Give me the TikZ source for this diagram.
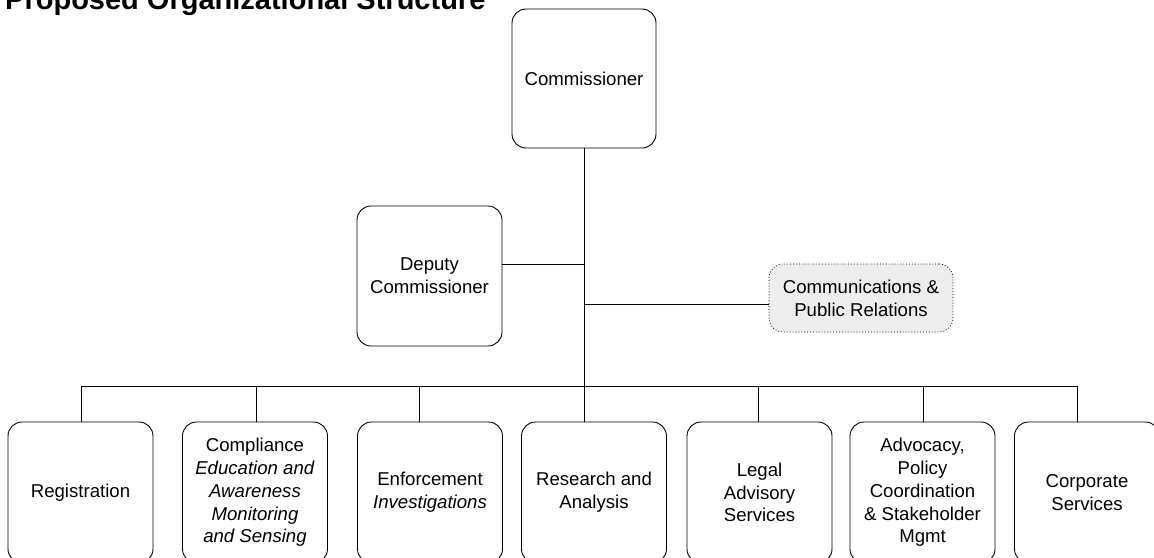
\documentclass[tikz,border=0pt]{standalone}
\usepackage{fontspec}
\setmainfont{Liberation Sans}
\begin{document}
\begin{tikzpicture}[x=1pt,y=-1pt,
  unit/.style={draw, rounded corners=14pt, line width=0.9pt, align=center,
    inner sep=0pt, font=\fontsize{18.6}{22.7}\selectfont},
  topbox/.style={unit, minimum width=144pt, minimum height=139pt},
  deptbox/.style={unit, minimum width=145pt, minimum height=141pt},
  staffbox/.style={unit, dotted, line width=0.7pt, fill=black!7,
    minimum width=184pt, minimum height=68pt},
  link/.style={line width=0.9pt}]
\useasboundingbox (0,0) rectangle (1154,557);

% heading
\node[anchor=base west, inner sep=0pt,
  font=\fontsize{29}{34}\selectfont\bfseries] (title) at (5,9)
  {Proposed Organizational Structure};

% executive level
\node[topbox] (comm) at (584,78.5) {Commissioner};
\node[unit, minimum width=145pt, minimum height=140pt] (dep) at (429.5,276)
  {Deputy\\Commissioner};
\node[staffbox] (cpr) at (861,298) {Communications \&\\Public Relations};

% departments
\node[deptbox] (reg) at (80.5,492.5) {Registration};
\node[deptbox] (cmp) at (255,492.5) {Compliance\\\textit{Education and}\\
  \textit{Awareness}\\\textit{Monitoring}\\\textit{and Sensing}};
\node[deptbox] (enf) at (430,492.5) {Enforcement\\\textit{Investigations}};
\node[deptbox] (res) at (594,492.5) {Research and\\Analysis};
\node[deptbox] (leg) at (759.5,492.5) {Legal\\Advisory\\Services};
\node[deptbox] (adv) at (922.5,492.5) {Advocacy,\\Policy\\Coordination\\
  \& Stakeholder\\Mgmt};
\node[deptbox] (cor) at (1087,492.5) {Corporate\\Services};

% taps on the trunk and on the bus
\coordinate (dtap) at (584,264);
\coordinate (ctap) at (584,304.5);
\coordinate (t1) at (81,386);
\coordinate (t2) at (256,386);
\coordinate (t3) at (419,386);
\coordinate (t5) at (758,386);
\coordinate (t6) at (923,386);
\coordinate (t7) at (1077,386);

% trunk, side links and bus
\draw[link] (comm.south) -- (comm.south |- res.north);
\draw[link] (dep.east |- dtap) -- (dtap);
\draw[link] (ctap) -- (cpr.west |- ctap);
\draw[link] (t1) -- (t7);

% drops to the departments
\draw[link] (t1) -- (t1 |- reg.north);
\draw[link] (t2) -- (t2 |- cmp.north);
\draw[link] (t3) -- (t3 |- enf.north);
\draw[link] (t5) -- (t5 |- leg.north);
\draw[link] (t6) -- (t6 |- adv.north);
\draw[link] (t7) -- (t7 |- cor.north);
\end{tikzpicture}
\end{document}
